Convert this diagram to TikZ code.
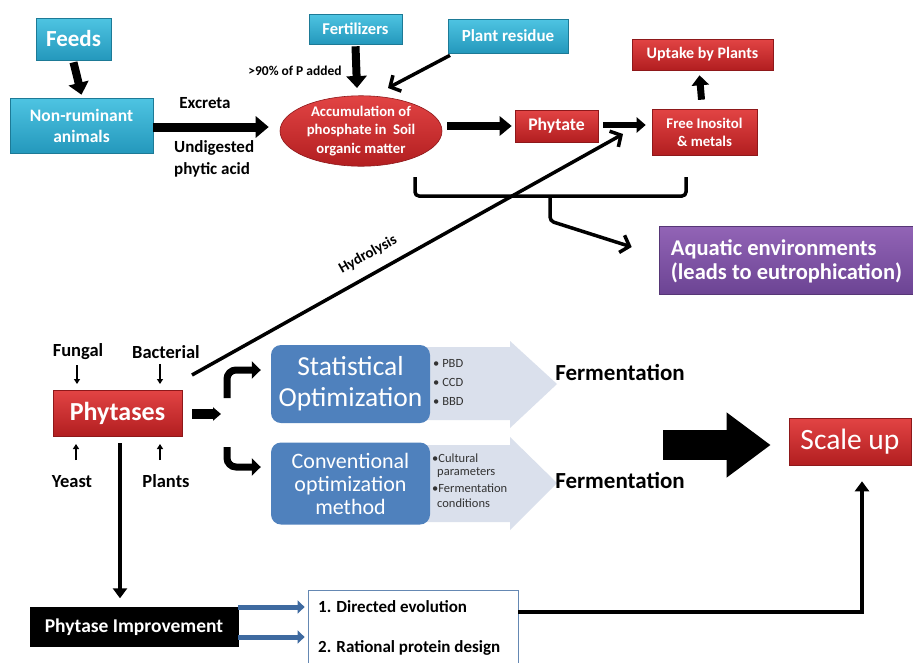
\documentclass[tikz,border=0pt]{standalone}
\usepackage{fontspec}
\setmainfont{Carlito}
\usetikzlibrary{arrows.meta,shapes.geometric}
\definecolor{cyantop}{RGB}{78,196,226}
\definecolor{cyanbot}{RGB}{36,152,188}
\definecolor{redtop}{RGB}{226,68,68}
\definecolor{redbot}{RGB}{178,30,32}
\definecolor{purtop}{RGB}{146,100,182}
\definecolor{purbot}{RGB}{108,68,148}
\definecolor{bluebox}{RGB}{79,129,189}
\definecolor{lightarr}{RGB}{218,224,236}
\definecolor{darkblue}{RGB}{62,106,160}
\begin{document}
\begin{tikzpicture}[x=1pt,y=-1pt,
  cyanb/.style={draw=cyanbot!80!black, line width=0.6pt, top color=cyantop, bottom color=cyanbot, text=white, font=\bfseries, align=center, inner sep=0pt},
  redb/.style={draw=redbot!80!black, line width=0.6pt, top color=redtop, bottom color=redbot, text=white, align=center, inner sep=0pt},
  blueb/.style={fill=bluebox, rounded corners=10pt, text=white, align=center, inner sep=0pt},
  lbl/.style={font=\bfseries, text=black, inner sep=0pt},
  blk/.style={draw=black, line width=#1},
  blk/.default=8pt,
  bullet/.style={font=\fontsize{12.5}{14}\selectfont, text=black!80, inner sep=0pt, anchor=west},
  smallarr/.style={draw=black, line width=1.5pt, -{Triangle[length=5pt,width=6pt]}},
  barb/.style={draw=black, line width=3.5pt, -{Straight Barb[length=8pt,width=18pt]}}
]
\useasboundingbox (0,0) rectangle (913,662);
\fill[white] (0,0) rectangle (913,662);

% ---------- top part ----------
\node[cyanb, minimum width=75pt, minimum height=42pt, font=\bfseries\fontsize{23}{27}\selectfont] (feeds) at (73.5,39) {Feeds};
\node[cyanb, minimum width=143pt, minimum height=55pt, font=\bfseries\fontsize{17.5}{21}\selectfont] (nonrum) at (81.5,125.5) {Non-ruminant\\animals};
\node[cyanb, minimum width=93pt, minimum height=30pt, font=\bfseries\fontsize{16.5}{19}\selectfont] (fert) at (355.5,29) {Fertilizers};
\node[cyanb, minimum width=120pt, minimum height=34pt, font=\bfseries\fontsize{17}{20}\selectfont] (resid) at (508,36) {Plant residue};
\node[ellipse, redb, minimum width=162pt, minimum height=68pt, font=\bfseries\fontsize{14.7}{18.5}\selectfont] (accum) at (361,131) {Accumulation of\\phosphate in~~Soil\\organic matter};
\node[redb, minimum width=83pt, minimum height=32pt, font=\bfseries\fontsize{17.7}{20}\selectfont] (phytate) at (556.5,126) {Phytate};
\node[redb, minimum width=105pt, minimum height=46pt, font=\bfseries\fontsize{14.8}{18}\selectfont] (free) at (704.5,132) {Free Inositol\\\& metals};
\node[redb, minimum width=141pt, minimum height=31pt, font=\bfseries\fontsize{16}{19}\selectfont] (uptake) at (702.5,54.5) {Uptake by Plants};
\node[draw=purbot!80!black, line width=0.6pt, top color=purtop, bottom color=purbot, minimum width=256pt, minimum height=68pt, inner sep=0pt] (aqua) at (787,260) {};
\node[text=white, font=\bfseries\fontsize{22.5}{24}\selectfont, align=left, anchor=west, inner sep=0pt] (aquatxt) at ([xshift=12pt,yshift=-1pt]aqua.west) {Aquatic environments\\(leads to eutrophication)};

\node[lbl, font=\bfseries\fontsize{13.5}{15}\selectfont] (pct) at (295,71) {>90\% of P added};
\node[lbl, font=\bfseries\fontsize{17}{19}\selectfont] (excreta) at (205,103) {Excreta};
\node[lbl, font=\bfseries\fontsize{17}{22}\selectfont, align=left, anchor=west] (undig) at (174,159) {Undigested\\phytic acid};

% top arrows
\draw[blk=8pt, -{Triangle[length=12pt,width=20pt]}] ([yshift=-2pt]feeds.south) -- ([yshift=3pt]nonrum.north);
\draw[blk=8pt, -{Triangle[length=12pt,width=20pt]}] ([yshift=-2pt]fert.south) -- (357,88);
\draw[barb] ([xshift=-58pt,yshift=-2pt]resid.south) -- (388,88);
\draw[blk=9pt, -{Triangle[length=13pt,width=21pt]}] ([yshift=-1.5pt]nonrum.east) -- ([xshift=-11pt,yshift=-1.5pt]nonrum.east -| accum.west);
\draw[blk=8pt, -{Triangle[length=12pt,width=19pt]}] ([xshift=5pt]accum.east |- phytate.west) -- ([xshift=-3pt]phytate.west);
\draw[blk=6pt, -{Triangle[length=9pt,width=15pt]}] ([xshift=5pt,yshift=1pt]phytate.east) -- ([xshift=-6pt,yshift=1pt]phytate.east -| free.west);
\draw[blk=7pt, -{Triangle[length=10pt,width=17pt]}] ([xshift=-3pt,yshift=9pt]free.north) -- ([xshift=-3pt,yshift=-5pt]uptake.south);

% bracket
\coordinate (brL) at (415,177);
\coordinate (brR) at (686,177);
\coordinate (brM) at (550,196);
\draw[black, line width=3.5pt, rounded corners=4pt] (brL) -- (415,196) -- (686,196) -- (brR);
\draw[barb, rounded corners=4pt] (brM) -- (550,221) -- ([xshift=-27pt,yshift=13pt]aqua.west);

% hydrolysis
\coordinate (hydS) at (192,375);
\coordinate (hydE) at (623,134);
\draw[barb] (hydS) -- node[pos=0.43, sloped, above=11pt, font=\bfseries\fontsize{15}{17}\selectfont, inner sep=0pt] (hydlbl) {Hydrolysis} (hydE);

% ---------- middle part ----------
\fill[lightarr] (425,347) -- (510,347) -- (510,341) -- (557,384) -- (510,428) -- (510,420) -- (425,420) -- cycle;
\fill[lightarr] (425,445) -- (510,445) -- (510,437) -- (557,483) -- (510,530) -- (510,522) -- (425,522) -- cycle;

\node[redb, minimum width=129pt, minimum height=46pt, font=\bfseries\fontsize{26}{30}\selectfont] (phyt) at (117.5,413) {Phytases};
\node[blueb, minimum width=159pt, minimum height=78pt, font=\fontsize{27.5}{31}\selectfont] (stat) at (350.5,384) {Statistical\\Optimization};
\node[blueb, minimum width=159pt, minimum height=82pt, font=\fontsize{22}{23}\selectfont] (conv) at (350.5,483.5) {Conventional\\optimization\\method};

\node[lbl, font=\bfseries\fontsize{18.5}{20}\selectfont] (fungal) at (78,352) {Fungal};
\node[lbl, font=\bfseries\fontsize{18.5}{20}\selectfont] (bact) at (166,352) {Bacterial};
\node[lbl, font=\bfseries\fontsize{18.5}{20}\selectfont] (yeast) at (72,482) {Yeast};
\node[lbl, font=\bfseries\fontsize{18.5}{20}\selectfont] (plants) at (166,481) {Plants};
\draw[smallarr] ([yshift=-5pt]fungal.south -| 77,0) -- (77,384);
\draw[smallarr] ([yshift=-5pt]bact.south -| 160,0) -- (160,384);
\draw[smallarr] (76,460) -- (76,444);
\draw[smallarr] (160,460) -- (160,444);

\node[bullet] (b1) at (433,363) {\textbullet\ PBD};
\node[bullet] (b2) at (433,382) {\textbullet\ CCD};
\node[bullet] (b3) at (433,401) {\textbullet\ BBD};
\node[bullet] (c1) at (432,458) {\textbullet Cultural};
\node[bullet] (c2) at (437,473) {parameters};
\node[bullet] (c3) at (432,488) {\textbullet Fermentation};
\node[bullet] (c4) at (437,503) {conditions};

\node[lbl, font=\bfseries\fontsize{23}{26}\selectfont] (ferm1) at (620,372) {Fermentation};
\node[lbl, font=\bfseries\fontsize{23}{26}\selectfont] (ferm2) at (620,480) {Fermentation};

\node[redb, minimum width=122pt, minimum height=47pt, font=\fontsize{29.5}{32}\selectfont] (scale) at (850,441.5) {Scale up};

\coordinate (bigS) at (663,445);
\draw[blk=30pt, -{Triangle[length=44pt,width=62pt]}] (bigS) -- ([xshift=-18pt,yshift=-3.5pt]scale.west);

% arrows from phytases
\coordinate (midS) at (192,414);
\coordinate (upS) at (227,398);
\coordinate (dnS) at (227,447);
\draw[blk=10pt, -{Triangle[length=8pt,width=13pt]}] (midS) -- (221,414);
\draw[blk=7pt, rounded corners=9pt, -{Triangle[length=9pt,width=17pt]}] (upS) -- (227,370) -- ([xshift=-10pt,yshift=14pt]stat.west);
\draw[blk=7pt, rounded corners=9pt, -{Triangle[length=9pt,width=17pt]}] (dnS) -- (227,467) -- ([xshift=-10pt,yshift=16.5pt]conv.west);

% ---------- bottom part ----------
\node[fill=black, draw=black, text=white, font=\bfseries\fontsize{19.5}{22}\selectfont, minimum width=208pt, minimum height=39pt, inner sep=0pt] (imp) at (134,627) {Phytase Improvement};
\draw[blk=4pt, -{Triangle[length=10pt,width=14pt]}] ([xshift=2.5pt,yshift=-7pt]phyt.south) -- ([xshift=-14pt,yshift=9pt]imp.north);

\node[draw=darkblue!80, line width=0.8pt, fill=white, minimum width=210pt, minimum height=75pt, inner sep=0pt] (tbox) at (413,627.5) {};
\node[lbl, font=\bfseries\fontsize{17}{19}\selectfont, anchor=west] (t1) at (318,607) {1. Directed evolution};
\node[lbl, font=\bfseries\fontsize{17}{19}\selectfont, anchor=west] (t2) at (318,648) {2. Rational protein design};

\draw[draw=darkblue, line width=5pt, -{Triangle[length=7pt,width=13pt]}] ([yshift=20pt]imp.east) -- ([xshift=-3pt]t1.west -| tbox.west);
\draw[draw=darkblue, line width=5pt, -{Triangle[length=7pt,width=13pt]}] ([yshift=-10pt]imp.east) -- ([xshift=-3pt,yshift=11pt]t2.west -| tbox.west);

\draw[black, line width=3.5pt, -{Triangle[length=10pt,width=14pt]}] ([yshift=15.5pt]tbox.east) -| ([xshift=12pt,yshift=-16pt]scale.south);
\end{tikzpicture}
\end{document}
